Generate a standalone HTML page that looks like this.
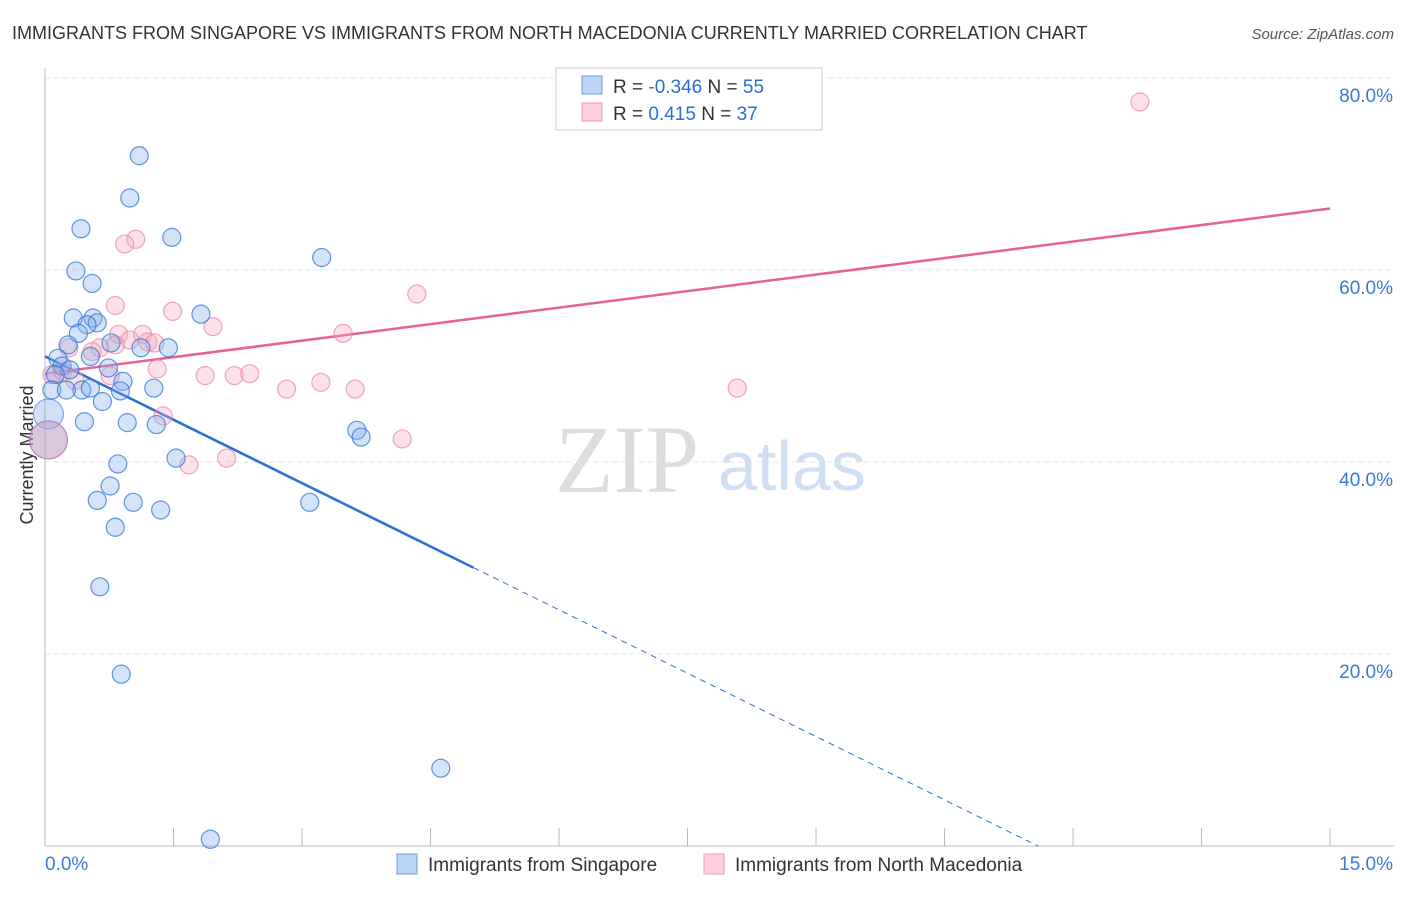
<!DOCTYPE html>
<html><head><meta charset="utf-8"><style>
body{margin:0;background:#fff;font-family:"Liberation Sans",sans-serif}
</style></head><body>
<svg id="chart" width="1406" height="892" xmlns="http://www.w3.org/2000/svg" font-family="Liberation Sans, sans-serif">
<text x="12" y="39" font-size="18" fill="#333">IMMIGRANTS FROM SINGAPORE VS IMMIGRANTS FROM NORTH MACEDONIA CURRENTLY MARRIED CORRELATION CHART</text>
<text x="1394" y="39" font-size="15" fill="#555" text-anchor="end" font-style="italic">Source: ZipAtlas.com</text>
<text transform="translate(33,455) rotate(-90)" font-size="18" fill="#333" text-anchor="middle">Currently Married</text>
<text x="555" y="492" font-size="96" fill="#ddd" font-family="Liberation Serif, serif">ZIP</text>
<text x="718" y="490" font-size="70" fill="#cfe0f3">atlas</text>
<g id="grid"></g><g id="axes"></g><g id="trends"></g><g id="points"></g>
<g>
<rect x="556" y="68" width="266" height="62" fill="#fff" stroke="#ccc"/>
<rect x="582" y="76" width="20" height="18" fill="#bcd5f5" stroke="#6a9ee6"/>
<rect x="582" y="103" width="20" height="18" fill="#fbd0dc" stroke="#ee9ab2"/>
<text x="613" y="93" font-size="19" fill="#333">R = <tspan fill="#2a6dd6">-0.346</tspan>   N = <tspan fill="#2a6dd6">55</tspan></text>
<text x="613" y="120" font-size="19" fill="#333">R =   <tspan fill="#2a6dd6">0.415</tspan>   N = <tspan fill="#2a6dd6">37</tspan></text>
</g>
<g>
<rect x="397" y="854" width="20" height="20" fill="#bcd5f5" stroke="#6a9ee6"/>
<text x="428" y="871" font-size="19" fill="#333">Immigrants from Singapore</text>
<rect x="704" y="854" width="20" height="20" fill="#fbd0dc" stroke="#ee9ab2"/>
<text x="735" y="871" font-size="19" fill="#333">Immigrants from North Macedonia</text>
</g>
</svg>
<script>
const blueX=[1.10,0.99,0.42,1.48,3.23,0.36,0.55,1.82,0.33,0.56,0.61,0.49,0.39,0.27,0.77,1.12,1.44,0.53,0.15,0.20,0.29,0.74,0.12,0.91,0.08,0.43,0.53,0.88,1.27,0.25,0.67,0.46,0.96,1.30,3.64,3.69,1.53,0.85,0.76,0.61,1.03,3.09,1.35,0.82,0.64,0.89,4.62,1.93];
const blueY=[71.9,67.5,64.3,63.4,61.3,59.9,58.6,55.4,55.0,55.0,54.5,54.3,53.4,52.2,52.4,51.9,51.9,51.0,50.8,50.0,49.6,49.8,49.1,48.4,47.5,47.5,47.7,47.4,47.7,47.5,46.3,44.2,44.1,43.9,43.3,42.6,40.4,39.8,37.5,36.0,35.8,35.8,35.0,33.2,27.0,17.9,8.1,0.7];
const pinkX=[12.78,1.06,0.93,4.34,0.82,1.49,1.96,3.48,0.86,1.14,0.99,1.20,1.28,0.28,0.64,0.82,0.55,1.31,0.13,0.21,0.35,0.76,1.87,2.21,2.39,3.22,2.82,3.62,8.08,1.38,4.17,2.12,1.68,0.08];
const pinkY=[77.5,63.2,62.7,57.5,56.3,55.7,54.1,53.4,53.3,53.3,52.7,52.5,52.4,51.9,51.9,52.2,51.5,49.7,49.2,49.4,48.5,49.0,49.0,49.0,49.2,48.3,47.6,47.6,47.7,44.8,42.4,40.4,39.7,49.1];
const bigX=[0.04,0.04,0.04];
const bigY=[45.0,42.3,42.3];
const yTicks=[20,40,60,80];
const yTickLabels=["20.0%","40.0%","60.0%","80.0%"];
const blueTrend=[51.0,-4.4];
const pinkTrend=[49.2,1.147];
const NS='http://www.w3.org/2000/svg';
const X=v=>45+v*85.67, Y=v=>846-v*9.6;
function mk(tag,attrs,parent){const e=document.createElementNS(NS,tag);for(const k in attrs)e.setAttribute(k,attrs[k]);document.getElementById(parent).appendChild(e);return e;}
yTicks.forEach((t,i)=>{
 const g=mk('line',{x1:45,x2:1394,y1:Y(t),y2:Y(t),stroke:'#e4e4e4','stroke-dasharray':'5,4'},'grid');
 
 
 const l=mk('text',{x:1393,y:Y(t)+24,'font-size':19,fill:'#3b78d8','text-anchor':'end'},'grid');
 l.textContent=yTickLabels[i];
 
 
});
const ax=mk('line',{x1:45,x2:45,y1:68,y2:846,stroke:'#bbb'},'axes');


const bx=mk('line',{x1:45,x2:1394,y1:846,y2:846,stroke:'#bbb'},'axes');


for(let i=0;i<=10;i++){const t=mk('line',{x1:X(i*1.5),x2:X(i*1.5),y1:828,y2:846,stroke:'#bbb'},'axes');
 
 }
const xl=mk('text',{x:45,y:870,'font-size':19,fill:'#3b78d8'},'axes');xl.textContent='0.0%';


const xr=mk('text',{x:1393,y:870,'font-size':19,fill:'#3b78d8','text-anchor':'end'},'axes');xr.textContent='15.0%';


const bt=v=>blueTrend[0]+blueTrend[1]*v, pt=v=>pinkTrend[0]+pinkTrend[1]*v;
const xEnd=-blueTrend[0]/blueTrend[1];
let l1=mk('line',{x1:X(0),y1:Y(bt(0)),x2:X(5),y2:Y(bt(5)),stroke:'#2a6fd6','stroke-width':2.5},'trends');


let l2=mk('line',{x1:X(5),y1:Y(bt(5)),x2:X(xEnd),y2:Y(0),stroke:'#2a6fd6','stroke-width':1,'stroke-dasharray':'6,5'},'trends');


let l3=mk('line',{x1:X(0),y1:Y(pt(0)),x2:X(15),y2:Y(pt(15)),stroke:'#e8628e','stroke-width':2.5},'trends');


function dot(x,y,r,fill,stroke,name){const c=mk('circle',{cx:X(x),cy:Y(y),r:r,fill:fill,stroke:stroke,'stroke-width':1.2},'points');
 
 }
dot(bigX[0],bigY[0],15,'rgba(120,165,230,0.35)','rgba(60,120,220,0.6)','singapore-point-large');
dot(bigX[1],bigY[1],19,'rgba(120,165,230,0.35)','rgba(60,120,220,0.6)','singapore-point-large');
dot(bigX[2],bigY[2],19,'rgba(240,150,180,0.35)','rgba(230,120,160,0.6)','macedonia-point-large');
pinkX.forEach((x,i)=>dot(x,pinkY[i],9,'rgba(245,170,195,0.35)','rgba(235,130,165,0.7)','macedonia-point'));
blueX.forEach((x,i)=>dot(x,blueY[i],9,'rgba(130,175,235,0.35)','rgba(50,115,215,0.75)','singapore-point'));
</script>
</body></html>
